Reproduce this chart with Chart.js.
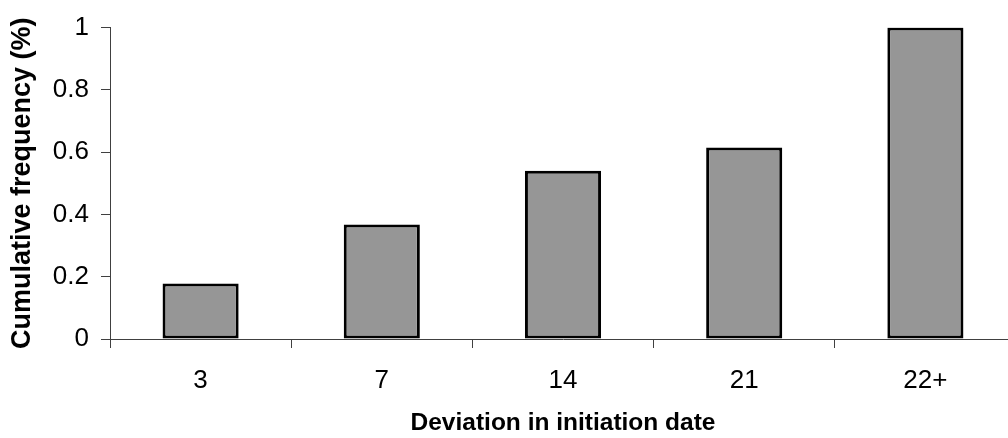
<!DOCTYPE html>
<html>
<head>
<meta charset="utf-8">
<script src="https://cdn.jsdelivr.net/npm/chart.js@4"></script>
<style>
  html, body { margin: 0; padding: 0; background: #fff; overflow: hidden; }
  #caixa { width: 1016px; height: 438px; position: relative; }
</style>
</head>
<body>
<div id="caixa"><canvas id="grafico"></canvas></div>
<script>
// dados
const categorias = ["3", "7", "14", "21", "22+"]
const frequencia = [0.178, 0.368, 0.54, 0.615, 1]
const ticksY = [0, 0.2, 0.4, 0.6, 0.8, 1]

const tituloX = "Deviation in initiation date"
const tituloY = "Cumulative frequency (%)"

const fonte = "'Liberation Sans', Arial, sans-serif"
const corEixo = "#404040"

const grafico = document.getElementById("grafico")

new Chart(grafico, {
  type: "bar",
  data: {
    labels: categorias,
    datasets: [
      {
        label: "Cumulative frequency",
        data: frequencia,
        backgroundColor: "#969696",
        borderColor: "#000000",
        borderWidth: 3,
        borderSkipped: false,
        barPercentage: 0.42,
        categoryPercentage: 1,
      },
    ],
  },
  options: {
    responsive: true,
    maintainAspectRatio: false,
    animation: false,
    layout: { padding: { top: 20, right: 0, bottom: 0, left: 0 } },
    plugins: {
      legend: { display: false },
      tooltip: { enabled: false },
    },
    scales: {
      x: {
        grid: { display: true, drawOnChartArea: false, drawTicks: true, tickLength: 9, color: corEixo, offset: true },
        border: { display: true, color: corEixo, width: 1 },
        ticks: { color: "#000", font: { family: fonte, size: 26 }, padding: 17, maxRotation: 0 },
        title: { display: true, text: tituloX, color: "#000", font: { family: fonte, size: 24.5, weight: "bold" }, padding: { top: 0, bottom: 0 } },
        afterFit: (escala) => { escala.height = 99 },
      },
      y: {
        min: 0,
        max: 1,
        afterBuildTicks: (escala) => { escala.ticks = ticksY.map(v => ({ value: v })) },
        grid: { display: true, drawOnChartArea: false, drawTicks: true, tickLength: 9, color: corEixo },
        border: { display: true, color: corEixo, width: 1 },
        ticks: {
          color: "#000",
          font: { family: fonte, size: 26 },
          padding: 12,
          // mostra 1 e nao 1.0
          callback: (valor) => String(valor),
        },
        title: { display: true, text: tituloY, color: "#000", font: { family: fonte, size: 27, weight: "bold" }, padding: { top: 6, bottom: 0 } },
        afterFit: (escala) => { escala.width = 110 },
      },
    },
  },
})
</script>
</body>
</html>
